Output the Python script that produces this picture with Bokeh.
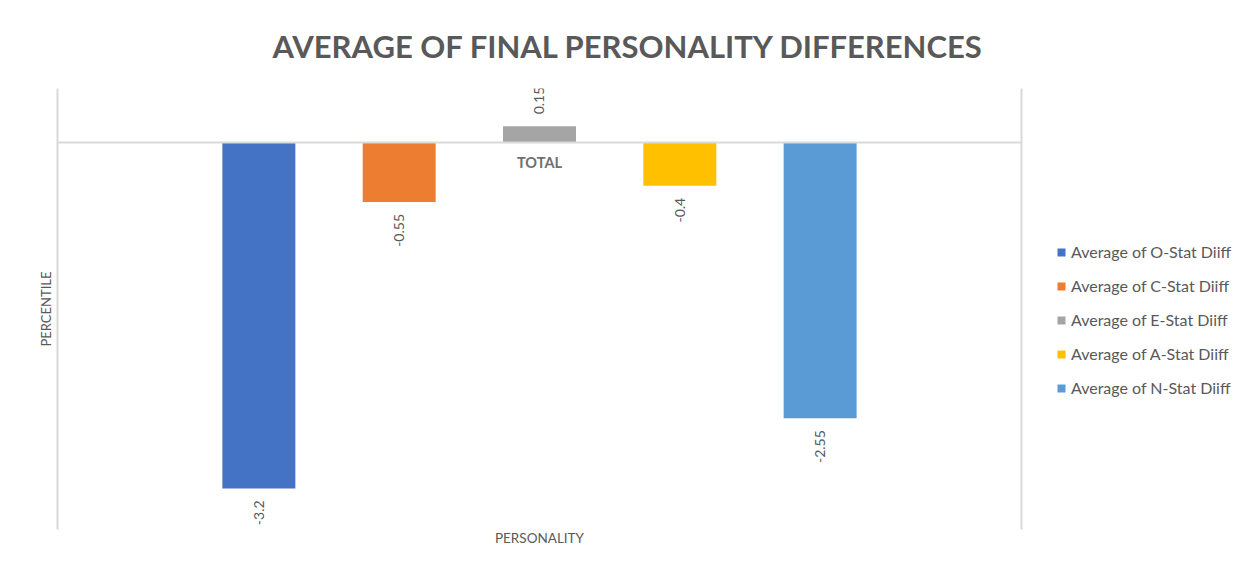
import math
from bokeh.plotting import figure
from bokeh.layouts import row
from bokeh.models import (FactorRange, Range1d, LinearAxis, Legend, LegendItem,
                          Label, LabelSet, Span, ColumnDataSource, FixedTicker)
from bokeh.core.properties import value
from bokeh.embed import file_html
from bokeh.resources import INLINE

# ---- data ----
chart_title = "AVERAGE OF FINAL PERSONALITY DIFFERENCES"
group_label = "TOTAL"
series = ["Average of O-Stat Diiff", "Average of C-Stat Diiff", "Average of E-Stat Diiff",
          "Average of A-Stat Diiff", "Average of N-Stat Diiff"]
values = [-3.2, -0.55, 0.15, -0.4, -2.55]
value_labels = ["-3.2", "-0.55", "0.15", "-0.4", "-2.55"]
colors = ["#4472C4", "#ED7D31", "#A5A5A5", "#FFC000", "#5B9BD5"]
y_axis_title = "PERCENTILE"
x_axis_title = "PERSONALITY"
y_start, y_end = -3.58, 0.5

FONT = "Lato"
GREY = "#595959"
LINE = "#d9d9d9"

src = ColumnDataSource(dict(
    x=series, top=values, color=colors, text=value_labels,
    yoff=[-12 if v < 0 else 12 for v in values],
    align=["right" if v < 0 else "left" for v in values],
))

p = figure(width=1030, height=565, output_backend="svg", toolbar_location=None,
           x_range=FactorRange(factors=series, range_padding=0.935, range_padding_units="absolute"),
           y_range=Range1d(y_start, y_end), x_axis_location=None, y_axis_location=None,
           min_border_left=57, min_border_right=9, min_border_top=87, min_border_bottom=36)
p.outline_line_color = None
p.xgrid.visible = False
p.ygrid.visible = False

p.title.text = chart_title
p.title.text_font = FONT
p.title.text_font_style = "bold"
p.title.text_font_size = "31px"
p.title.text_color = GREY
p.title.align = "left"
p.title.offset = 215
p.title.standoff = 48

bars = p.vbar(x="x", top="top", bottom=0, width=0.52, color="color", line_color=None, source=src)

p.add_layout(LabelSet(x="x", y="top", text="text", source=src, angle=math.pi / 2,
                      y_offset="yoff", text_align="align", text_baseline="middle",
                      text_font=value(FONT), text_font_size="14px", text_color=GREY))

p.add_layout(Span(location=0, dimension="width", line_color=LINE, line_width=2))
p.add_layout(Label(x=2.5, y=0, y_offset=-20, text=group_label, text_align="center",
                   text_baseline="middle", text_font=FONT, text_font_size="14.5px",
                   text_font_style="bold", text_color="#6f6f6f"))

# axes (no ticks, no tick labels)
ya = LinearAxis(ticker=FixedTicker(ticks=[]), axis_line_color=LINE, axis_line_width=2,
                major_tick_line_color=None, minor_tick_line_color=None,
                axis_label=y_axis_title, axis_label_text_font=FONT,
                axis_label_text_font_style="normal", axis_label_text_font_size="13px",
                axis_label_text_color=GREY, axis_label_standoff=4)
p.add_layout(ya, "left")

xa = LinearAxis(ticker=FixedTicker(ticks=[]), axis_line_color=None,
                major_tick_line_color=None, minor_tick_line_color=None,
                axis_label=x_axis_title, axis_label_text_font=FONT,
                axis_label_text_font_style="normal", axis_label_text_font_size="13.5px",
                axis_label_text_color=GREY, axis_label_standoff=0)
p.add_layout(xa, "below")

ra = LinearAxis(ticker=FixedTicker(ticks=[]), axis_line_color=LINE, axis_line_width=2,
                major_tick_line_color=None, minor_tick_line_color=None)
p.add_layout(ra, "right")

# ---- legend panel (separate small figure, same series) ----
lg = figure(width=214, height=565, output_backend="svg", toolbar_location=None,
            x_range=FactorRange(factors=series), y_range=Range1d(1000, 1001),
            x_axis_location=None, y_axis_location=None, min_border=0)
lg.outline_line_color = None
lg.xgrid.visible = False
lg.ygrid.visible = False
lbars = lg.vbar(x="x", top="top", bottom=0, width=0, color="color", line_color=None, source=src)

legend = Legend(items=[LegendItem(label=s, renderers=[lbars], index=i) for i, s in enumerate(series)],
                location=(26, 132),
                label_text_font=FONT, label_text_font_size="16px",
                label_text_color=GREY, glyph_width=10, glyph_height=10, spacing=15,
                padding=0, margin=0, border_line_color=None, background_fill_alpha=0,
                label_standoff=5)
lg.add_layout(legend)

open("out.html", "w").write(file_html(row(p, lg), INLINE))
